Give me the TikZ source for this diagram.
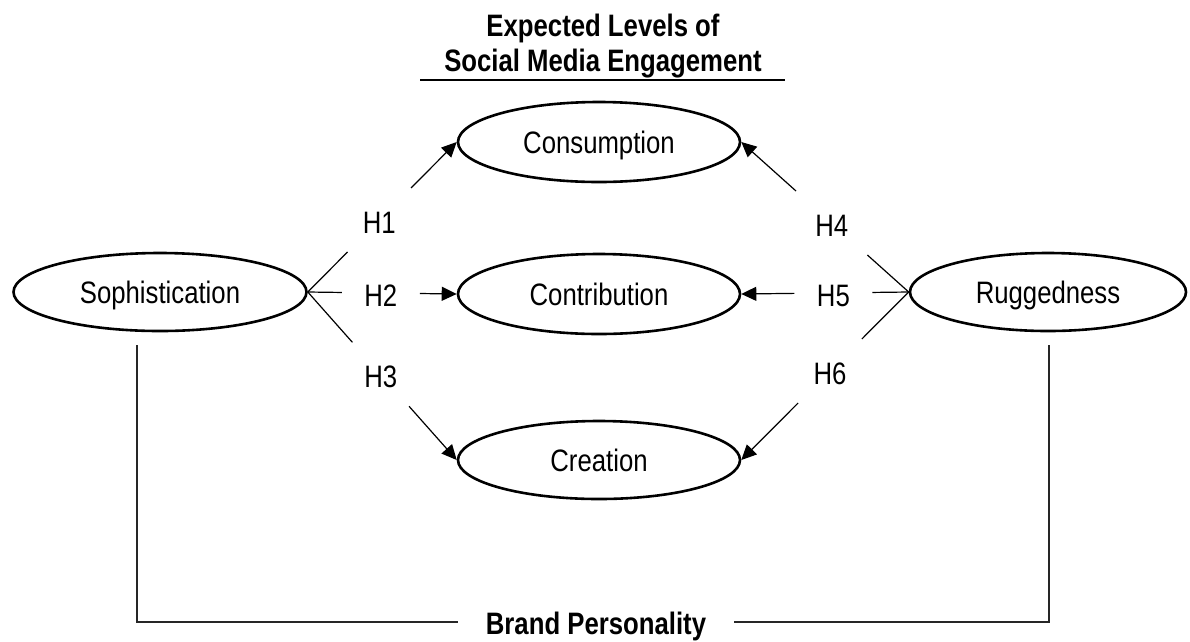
\documentclass[tikz,border=0pt]{standalone}
\usepackage{fontspec}
\setmainfont{Liberation Sans}[FakeStretch=0.83]
\usetikzlibrary{shapes.geometric, arrows.meta, calc, positioning}
\tikzset{
construct/.style={
  draw, ellipse, line width=2.6pt,
  font=\fontsize{31}{35}\selectfont,
  minimum width=282pt, minimum height=80pt,
  inner sep=0pt, text height=22pt, text depth=0pt
},
trait/.style={construct, minimum width=293pt, minimum height=78pt},
hyp/.style={
  font=\fontsize{31}{35}\selectfont,
  minimum width=78pt, minimum height=64pt,
  inner sep=0pt, outer sep=0pt, text height=27pt, text depth=0pt
},
heading/.style={font=\fontsize{31}{35}\selectfont\bfseries},
spoke/.style={line width=1.2pt},
effect/.style={spoke, -{Triangle[length=15pt,width=14pt]}},
bracket/.style={line width=1.3pt, black!85},
}

\begin{document}
\begin{tikzpicture}[x=1pt, y=-1pt]
        \useasboundingbox (0,0) rectangle (1190,641);
        % brand personality traits and engagement levels
        \node[trait] (soph) at (160,292) {Sophistication};
        \node[trait, minimum width=276pt] (rugg) at (1048,292) {Ruggedness};
        \node[construct] (cons) at (599,142) {Consumption};
        \node[construct] (contr) at (599,294) {Contribution};
        \node[construct, minimum height=78pt] (crea) at (599,460) {Creation};

        \node[heading, align=center, anchor=south, inner sep=0pt] (title) at (603,78) {Expected Levels of\\Social Media Engagement};
        \draw[line width=1.5pt] ($(title.south)+(-183,2)$) -- ($(title.south)+(182,2)$);

        % hypotheses
        \path (soph.east) -- node[hyp, pos=.48] (h1) {H1} (cons.west);
        \path (soph.east) -- node[hyp, pos=.49] (h2) {H2} (contr.west);
        \path (soph.east) -- node[hyp, pos=.49] (h3) {H3} (crea.west);
        \path (rugg.west) -- node[hyp, pos=.46] (h4) {H4} (cons.east);
        \path (rugg.west) -- node[hyp, pos=.45] (h5) {H5} (contr.east);
        \path (rugg.west) -- node[hyp, pos=.47] (h6) {H6} (crea.east);

        \draw[spoke] (soph.east) -- (h1);
        \draw[spoke] (soph.east) -- (h2);
        \draw[spoke] (soph.east) -- (h3);
        \draw[effect] (h1) -- (cons.west);
        \draw[effect] (h2) -- (contr.west);
        \draw[effect] (h3) -- (crea.west);

        \draw[spoke] (rugg.west) -- (h4);
        \draw[spoke] (rugg.west) -- (h5);
        \draw[spoke] (rugg.west) -- (h6);
        \draw[effect] (h4) -- (cons.east);
        \draw[effect] (h5) -- (contr.east);
        \draw[effect] (h6) -- (crea.east);

        % bracket
        \node[heading, inner xsep=28pt, inner ysep=0pt, text height=24pt, text depth=0pt] (bp) at (596,622) {Brand Personality};
        \coordinate (bl) at ([shift={(-23,13)}]soph.south);
        \coordinate (br) at ([shift={(1,13)}]rugg.south);
        \draw[bracket] (bl) |- (bp.west);
        \draw[bracket] (br) |- (bp.east);
\end{tikzpicture}
\end{document}
